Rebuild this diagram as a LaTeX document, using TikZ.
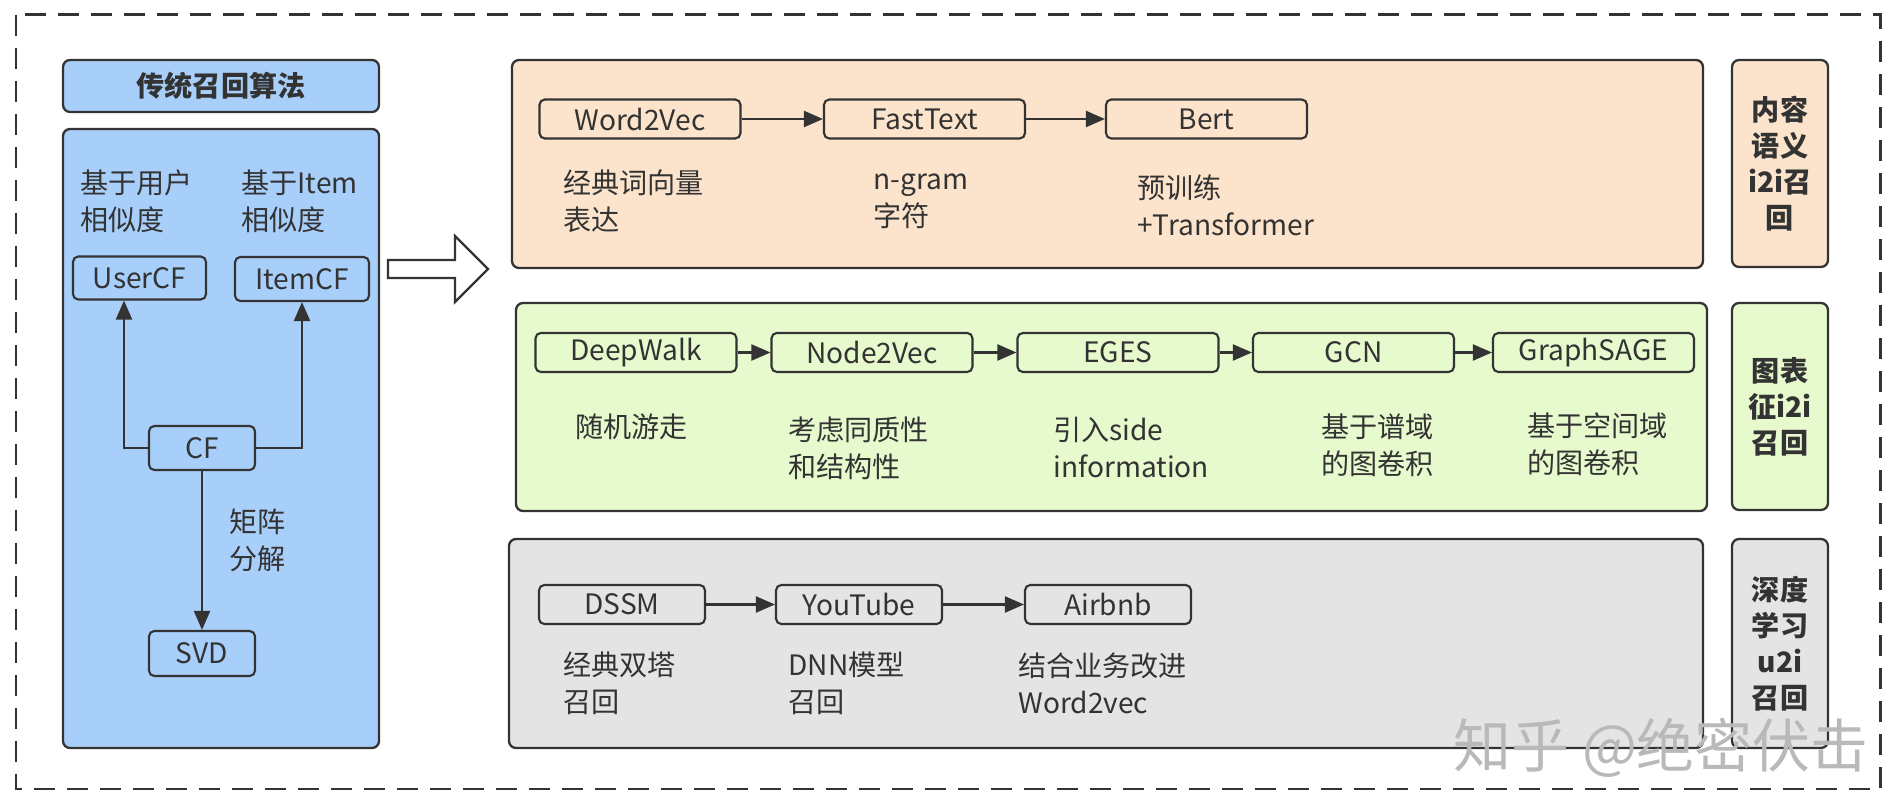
\documentclass[tikz,border=0pt]{standalone}
\usepackage{fontspec}
\setmainfont{Noto Sans CJK SC}
\usetikzlibrary{arrows.meta}
\definecolor{linec}{RGB}{51,51,51}
\definecolor{bluefill}{RGB}{168,206,250}
\definecolor{peachfill}{RGB}{252,228,204}
\definecolor{limefill}{RGB}{230,250,205}
\definecolor{greyfill}{RGB}{228,228,228}
\begin{document}
\begin{tikzpicture}[x=0.02cm,y=-0.02cm,
        panel/.style={draw=linec,line width=1.3pt,rounded corners=4pt},
        algo/.style={draw=linec,line width=1.2pt,rounded corners=3pt,minimum width=4.02cm,minimum height=0.78cm,inner sep=0pt,text=linec,font=\fontsize{16}{21}\selectfont},
        note/.style={anchor=west,align=left,inner sep=0pt,text=linec,font=\fontsize{16}{21}\selectfont},
        tag/.style={draw=linec,line width=1.3pt,rounded corners=4pt,minimum width=1.92cm,minimum height=4.14cm,align=center,text=linec,font=\bfseries\fontsize{16}{20.5}\selectfont},
        arr/.style={-{Triangle[length=0.38cm,width=0.32cm]},draw=linec,line width=1.2pt}]
                \useasboundingbox (0,0) rectangle (1898,803);
                \draw[linec,line width=1.7pt,dash pattern=on 0.42cm off 0.24cm] (16,15) rectangle (1880,789);
                \node[panel,fill=bluefill,minimum width=6.32cm,minimum height=1.04cm,text=linec,font=\bfseries\fontsize{16}{21}\selectfont] (title) at (221,86) {传统召回算法};
                \draw[panel,fill=bluefill] (63,129) rectangle (379,748);
                \node[note] (usersim) at (80,201.5) {基于用户\\相似度};
                \node[note] (itemsim) at (241,201.5) {基于Item\\相似度};
                \node[algo,minimum width=2.66cm,minimum height=0.86cm] (usercf) at (139.5,278) {UserCF};
                \node[algo,minimum width=2.68cm,minimum height=0.88cm] (itemcf) at (302,279) {ItemCF};
                \node[algo,minimum width=2.12cm,minimum height=0.88cm] (cf) at (202,448) {CF};
                \node[algo,minimum width=2.12cm,minimum height=0.9cm] (svd) at (202,653.5) {SVD};
                \draw[arr] (cf.west) -| ([xshift=-0.31cm]usercf.south);
                \draw[arr] (cf.east) -| (itemcf.south);
                \draw[arr] (cf) -- (svd);
                \node[note] (mf) at (229,540) {矩阵\\分解};
                \draw[draw=linec,line width=1.3pt,fill=white] (388,260) -- (455,260) -- (455,236) -- (488,269) -- (455,302) -- (455,278) -- (388,278) -- cycle;
                \draw[panel,fill=peachfill] (512,60) rectangle (1703,268);
                \node[algo] (w2v) at (640,119) {Word2Vec};
                \node[algo] (fasttext) at (924.5,119) {FastText};
                \node[algo] (bert) at (1206.5,119) {Bert};
                \draw[arr] (w2v) -- (fasttext);
                \draw[arr] (fasttext) -- (bert);
                \node[note] (w2vnote) at (563,201.5) {经典词向量\\表达};
                \node[note] (ftnote) at (873,201.5) {n-gram\\字符};
                \node[note] (bertnote) at (1137,205.5) {预训练\\+Transformer};
                \node[tag,fill=peachfill] (tagtext) at (1780,163.5) {内容\\语义\\i2i召\\回};
                \draw[panel,fill=limefill] (516,303) rectangle (1707,511);
                \node[algo] (deepwalk) at (636,352.5) {DeepWalk};
                \node[algo] (n2v) at (872,352.5) {Node2Vec};
                \node[algo] (eges) at (1118,352.5) {EGES};
                \node[algo] (gcn) at (1353.5,352.5) {GCN};
                \node[algo] (sage) at (1593.5,352.5) {GraphSAGE};
                \draw[arr] (deepwalk) -- (n2v);
                \draw[arr] (n2v) -- (eges);
                \draw[arr] (eges) -- (gcn);
                \draw[arr] (gcn) -- (sage);
                \node[note] (dwnote) at (575,427) {随机游走};
                \node[note] (n2vnote) at (788,448.5) {考虑同质性\\和结构性};
                \node[note] (egesnote) at (1053,447.5) {引入side\\information};
                \node[note] (gcnnote) at (1321,445) {基于谱域\\的图卷积};
                \node[note] (sagenote) at (1527,444.5) {基于空间域\\的图卷积};
                \node[tag,fill=limefill] (taggraph) at (1780,406.5) {图表\\征i2i\\召回};
                \draw[panel,fill=greyfill] (509,539) rectangle (1703,748);
                \node[algo,minimum width=3.32cm] (dssm) at (622,604.5) {DSSM};
                \node[algo,minimum width=3.32cm] (youtube) at (859,604.5) {YouTube};
                \node[algo,minimum width=3.32cm] (airbnb) at (1108,604.5) {Airbnb};
                \draw[arr] (dssm) -- (youtube);
                \draw[arr] (youtube) -- (airbnb);
                \node[note] (dssmnote) at (563,683.5) {经典双塔\\召回};
                \node[note] (ytnote) at (788,683.5) {DNN模型\\召回};
                \node[note] (abnote) at (1018,683.5) {结合业务改进\\Word2vec};
                \node[tag,fill=greyfill,minimum height=4.18cm] (tagdeep) at (1780,643.5) {深度\\学习\\u2i\\召回};
                \node[text=gray!55,font=\fontsize{33}{33}\selectfont] (mark) at (1661,748) {知乎 @绝密伏击};
            \end{tikzpicture}
\end{document}
